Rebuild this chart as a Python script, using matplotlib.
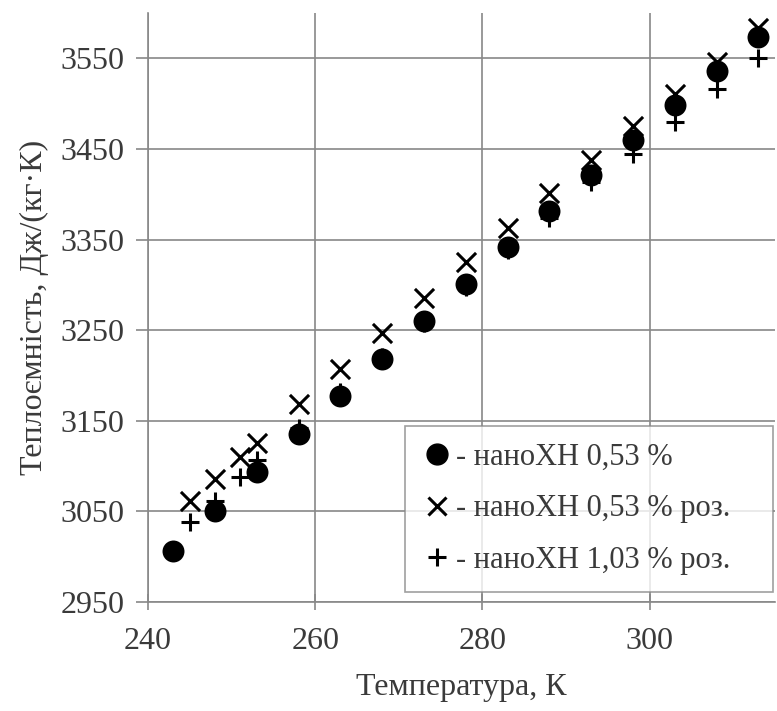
import matplotlib
matplotlib.use("Agg")
import matplotlib.pyplot as plt
from matplotlib.lines import Line2D

# temperature, K and heat capacity, J/(kg K)
t_dot = [243, 248, 253, 258, 263, 268, 273, 278, 283, 288, 293, 298, 303, 308, 313]
c_dot = [3006, 3050, 3093, 3135, 3177, 3218, 3260, 3301, 3342, 3382, 3421, 3460, 3498, 3536, 3573]

t_cross = [245, 248, 251, 253, 258, 263, 268, 273, 278, 283, 288, 293, 298, 303, 308, 313]
c_cross = [3062, 3086, 3110, 3126, 3168, 3207, 3247, 3285, 3325, 3363, 3401, 3438, 3475, 3511, 3546, 3583]

t_plus = [245, 248, 251, 253, 258, 263, 268, 273, 278, 283, 288, 293, 298, 303, 308, 313]
c_plus = [3038, 3062, 3088, 3107, 3142, 3182, 3220, 3258, 3298, 3338, 3374, 3413, 3444, 3480, 3516, 3550]

labels = ["- наноХН 0,53 %", "- наноХН 0,53 % роз.", "- наноХН 1,03 % роз."]
x_ticks = [240, 260, 280, 300]
y_ticks = [2950, 3050, 3150, 3250, 3350, 3450, 3550]

plt.rcParams["font.family"] = ["Liberation Serif", "DejaVu Serif"]
grid_c = "#888888"
text_c = "#3a3a3a"

fig = plt.figure(figsize=(7.77, 7.11), dpi=100)
ax = fig.add_axes([0.1905, 0.1533, 0.807, 0.8284])

ax.scatter(t_cross, c_cross, marker="x", s=190, color="black", linewidths=2.2, zorder=3)
ax.scatter(t_plus, c_plus, marker="+", s=170, color="black", linewidths=2.2, zorder=3)
ax.scatter(t_dot, c_dot, marker="o", s=250, color="black", linewidths=0, zorder=4)

ax.set_xlim(240, 315)
ax.set_ylim(2950, 3600)
ax.set_xticks(x_ticks)
ax.set_yticks(y_ticks)
ax.grid(True, color=grid_c, linewidth=1.2)
ax.set_axisbelow(True)

for side in ["top", "right"]:
    ax.spines[side].set_visible(False)
for side in ["left", "bottom"]:
    ax.spines[side].set_color(grid_c)
    ax.spines[side].set_linewidth(1.2)

ax.tick_params(axis="x", direction="inout", length=12, width=1.2, color=grid_c,
               labelsize=23, labelcolor=text_c, pad=12)
ax.tick_params(axis="y", direction="out", length=9, width=1.2, color=grid_c,
               labelsize=23, labelcolor=text_c, pad=8)

ax.set_xlabel("Температура, К", fontsize=23, color=text_c, labelpad=12)
ax.set_ylabel("Теплоємність, Дж/(кг·К)", fontsize=23, color=text_c, labelpad=8)

handles = [
    Line2D([], [], marker="o", linestyle="none", color="black", markersize=15),
    Line2D([], [], marker="x", linestyle="none", color="black", markersize=13, markeredgewidth=2.2),
    Line2D([], [], marker="+", linestyle="none", color="black", markersize=13, markeredgewidth=2.2),
]
leg = ax.legend(handles, labels, loc="lower left", bbox_to_anchor=(0.41, 0.017, 0.587, 0.28),
                mode="expand", fontsize=22, frameon=True, fancybox=False,
                edgecolor=grid_c, handletextpad=0.1, handlelength=1.0,
                labelspacing=0.75, borderpad=0.55, borderaxespad=0)
leg.get_frame().set_linewidth(1.2)
for txt in leg.get_texts():
    txt.set_color(text_c)

fig.savefig("out.png", dpi=100)
